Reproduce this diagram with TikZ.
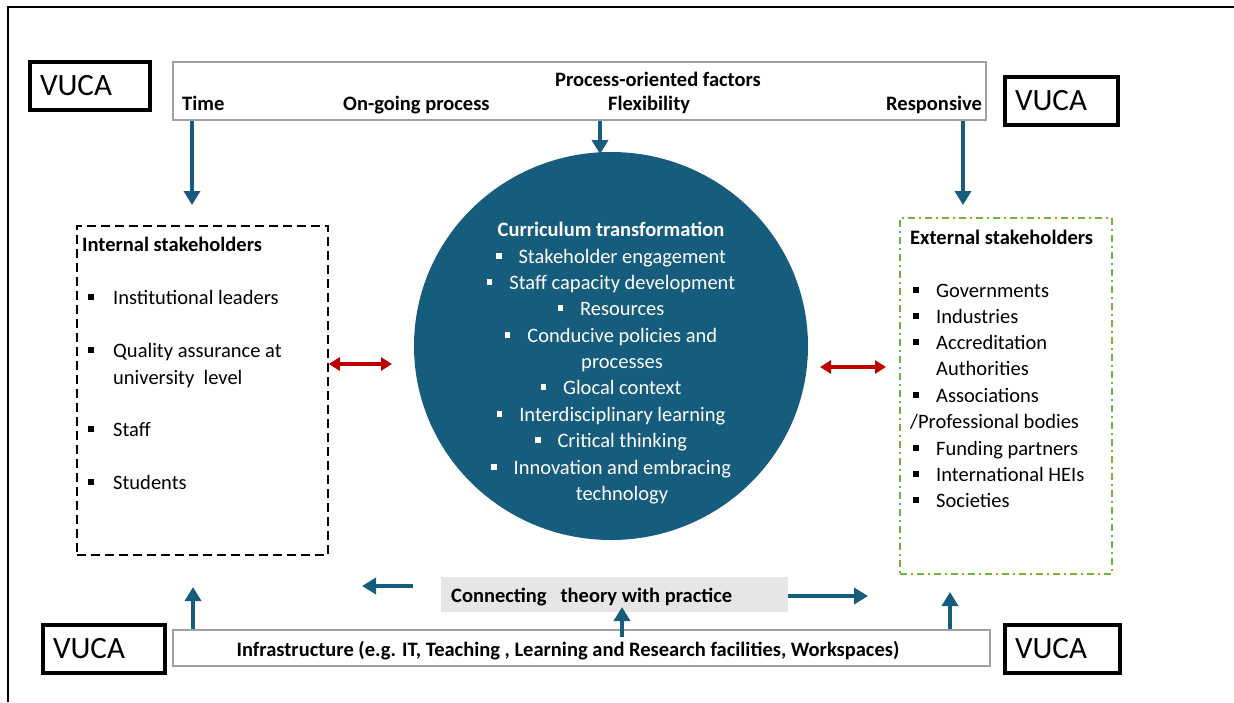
\documentclass[tikz,border=0pt]{standalone}
\usepackage{fontspec}
\setmainfont{Carlito}
\usetikzlibrary{arrows.meta,shapes.geometric}
\definecolor{tealA}{RGB}{22,92,125}
\definecolor{redA}{RGB}{192,0,0}
\definecolor{greenA}{RGB}{112,180,60}
\definecolor{barGray}{RGB}{160,160,160}
\definecolor{connGray}{RGB}{230,230,230}
\newcommand{\sqb}{\rule[0.2em]{0.27em}{0.27em}}
\begin{document}
\begin{tikzpicture}[x=1pt,y=-1pt,
  reg/.style={inner sep=0, font=\fontsize{20.5}{24}\selectfont},
  bld/.style={inner sep=0, font=\bfseries\fontsize{20.5}{24}\selectfont},
  vuca/.style={draw, line width=4.5, minimum height=48, text width=100, inner xsep=10, align=left, font=\fontsize{31}{33}\selectfont},
  bar/.style={draw=barGray, line width=1.3, inner sep=0},
  barr/.style={-{Triangle[width=16pt,length=14pt]}, line width=4.5, draw=tealA},
  redarr/.style={{Triangle[width=13pt,length=11pt]}-{Triangle[width=13pt,length=11pt]}, line width=3.5, draw=redA}
]
\useasboundingbox (0,0) rectangle (1234,702);
\fill[white] (0,0) rectangle (1234,702);
% outer frame
\draw[line width=2.5] (8,702) -- (8,7) -- (1234,7);

% top bar
\node[bar, minimum width=813, minimum height=58] (proc) at (579.5,91) {};
\node[bld, anchor=base] (pof) at (658,86) {Process-oriented factors};
\node[bld, anchor=base west] (ptime) at (182,110) {Time};
\node[bld, anchor=base west] (pong) at (343,110) {On-going process};
\node[bld, anchor=base west] (pflex) at (608,110) {Flexibility};
\node[bld, anchor=base west] (presp) at (886,110) {Responsive};

% VUCA boxes
\node[vuca, text width=100] (v1) at (90,86) {VUCA};
\node[vuca, text width=93] (v2) at (1061.5,101) {VUCA};
\node[vuca, text width=102] (v3) at (104,649) {VUCA};
\node[vuca, text width=95] (v4) at (1062.5,649) {VUCA};

% central ellipse
\node[ellipse, fill=tealA, minimum width=394, minimum height=388, inner sep=0] (ct) at (611,346) {};
\begin{scope}[every node/.append style={text=white, anchor=base}]
\node[bld] (c0) at (611,236) {Curriculum transformation};
\node[reg] (c1) at (611,263) {\sqb\hspace{17pt}Stakeholder engagement};
\node[reg] (c2) at (611,289) {\sqb\hspace{17pt}Staff capacity development};
\node[reg] (c3) at (611,315) {\sqb\hspace{17pt}Resources};
\node[reg] (c4) at (611,342) {\sqb\hspace{17pt}Conducive policies and};
\node[reg] (c5) at (622,368) {processes};
\node[reg] (c6) at (611,394) {\sqb\hspace{17pt}Glocal context};
\node[reg] (c7) at (611,421) {\sqb\hspace{17pt}Interdisciplinary learning};
\node[reg] (c8) at (611,447) {\sqb\hspace{17pt}Critical thinking};
\node[reg] (c9) at (611,474) {\sqb\hspace{17pt}Innovation and embracing};
\node[reg] (c10) at (622,500) {technology};
\end{scope}

% internal stakeholders
\node[draw, line width=1.5, dash pattern=on 9pt off 5pt, minimum width=251, minimum height=329, inner sep=0] (intl) at (202.5,390.5) {};
\begin{scope}[every node/.append style={anchor=base west}]
\node[bld] (it) at (82,251) {Internal stakeholders};
\node[reg] (i1) at (88,304) {\makebox[25pt][l]{\sqb}Institutional leaders};
\node[reg] (i2) at (88,357) {\makebox[25pt][l]{\sqb}Quality assurance at};
\node[reg] (i2b) at (113,384) {university\ \ level};
\node[reg] (i3) at (88,436) {\makebox[25pt][l]{\sqb}Staff};
\node[reg] (i4) at (88,489) {\makebox[25pt][l]{\sqb}Students};
\end{scope}

% external stakeholders
\node[draw=greenA, line width=1.5, dash pattern=on 7pt off 4pt on 2pt off 4pt, minimum width=212, minimum height=356, inner sep=0] (extl) at (1006,396) {};
\begin{scope}[every node/.append style={anchor=base west}]
\node[bld] (et) at (910,244) {External stakeholders};
\node[reg] (e1) at (913,297) {\makebox[23pt][l]{\sqb}Governments};
\node[reg] (e2) at (913,323) {\makebox[23pt][l]{\sqb}Industries};
\node[reg] (e3) at (913,349) {\makebox[23pt][l]{\sqb}Accreditation};
\node[reg] (e3b) at (936,375) {Authorities};
\node[reg] (e4) at (913,402) {\makebox[23pt][l]{\sqb}Associations};
\node[reg] (e4b) at (910,428) {/Professional bodies};
\node[reg] (e5) at (913,455) {\makebox[23pt][l]{\sqb}Funding partners};
\node[reg] (e6) at (913,481) {\makebox[23pt][l]{\sqb}International HEIs};
\node[reg] (e7) at (913,507) {\makebox[23pt][l]{\sqb}Societies};
\end{scope}

% connecting box
\node[fill=connGray, minimum width=347, minimum height=35, inner sep=0] (conn) at (614.5,594.5) {};
\node[bld, anchor=base west] (connt) at (451,602) {Connecting\ \ \ theory with practice};

% infrastructure bar
\node[bar, minimum width=817, minimum height=36] (infra) at (581.5,648) {};
\node[bld, anchor=base] (inft) at (568,656) {Infrastructure (e.g. IT, Teaching , Learning and Research facilities, Workspaces)};

% top arrows
\coordinate (t1) at (192,205);
\coordinate (t2) at (600,154);
\coordinate (t3) at (963,205);
\draw[barr] (proc.south -| t1) -- (t1);
\draw[barr] (proc.south -| t2) -- (t2);
\draw[barr] (proc.south -| t3) -- (t3);

% red double arrows
\coordinate (r1) at (392,364);
\draw[redarr] (r1 -| intl.east) -- (r1);
\coordinate (r2a) at (820,367);
\coordinate (r2b) at (886,367);
\draw[redarr] (r2a) -- (r2b);

% bottom arrows
\coordinate (b1) at (193,587);
\coordinate (b2) at (622,607);
\coordinate (b3) at (950,592);
\draw[barr] (b1 |- infra.north) -- (b1);
\draw[barr] (622,637) -- (b2);
\draw[barr] (b3 |- infra.north) -- (b3);

\coordinate (la) at (413,586);
\coordinate (lb) at (362,586);
\draw[barr] (la) -- (lb);
\coordinate (rb) at (868,596);
\draw[barr] (conn.east |- rb) -- (rb);
\end{tikzpicture}
\end{document}
